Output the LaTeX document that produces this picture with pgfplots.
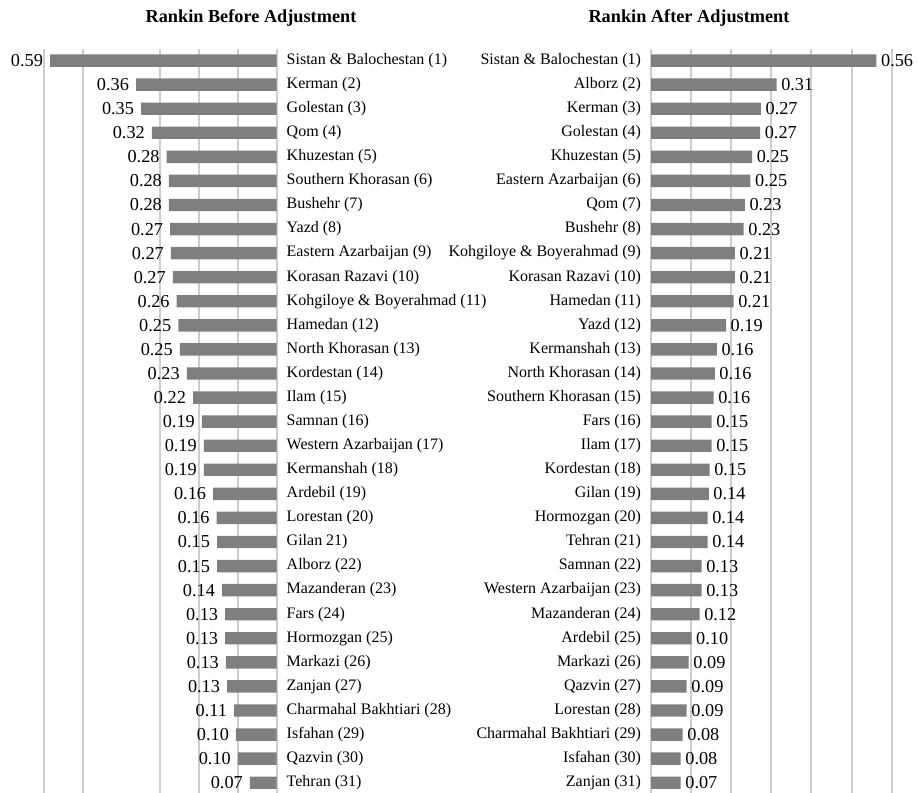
\documentclass[border=0pt]{standalone}
\usepackage{pgfplots}
\pgfplotsset{compat=1.18}
\usepackage{pgfplotstable}
\usepackage{fontspec}
\setmainfont{Liberation Serif}

\definecolor{barfill}{RGB}{127,127,129}
\definecolor{gridc}{RGB}{205,205,205}

% bar length, printed label
\pgfplotstableread{
y v lab
1 0.585 0.59
2 0.363 0.36
3 0.350 0.35
4 0.322 0.32
5 0.284 0.28
6 0.278 0.28
7 0.278 0.28
8 0.275 0.27
9 0.273 0.27
10 0.268 0.27
11 0.258 0.26
12 0.254 0.25
13 0.250 0.25
14 0.232 0.23
15 0.216 0.22
16 0.193 0.19
17 0.188 0.19
18 0.188 0.19
19 0.164 0.16
20 0.155 0.16
21 0.154 0.15
22 0.154 0.15
23 0.141 0.14
24 0.133 0.13
25 0.133 0.13
26 0.131 0.13
27 0.128 0.13
28 0.110 0.11
29 0.105 0.10
30 0.100 0.10
31 0.069 0.07
}\before

\pgfplotstableread{
y v lab
1 0.562 0.56
2 0.313 0.31
3 0.274 0.27
4 0.272 0.27
5 0.252 0.25
6 0.248 0.25
7 0.234 0.23
8 0.231 0.23
9 0.209 0.21
10 0.209 0.21
11 0.206 0.21
12 0.187 0.19
13 0.164 0.16
14 0.159 0.16
15 0.156 0.16
16 0.151 0.15
17 0.151 0.15
18 0.146 0.15
19 0.144 0.14
20 0.141 0.14
21 0.141 0.14
22 0.126 0.13
23 0.126 0.13
24 0.121 0.12
25 0.101 0.10
26 0.094 0.09
27 0.089 0.09
28 0.089 0.09
29 0.079 0.08
30 0.074 0.08
31 0.074 0.07
}\after

\pgfplotsset{
  panel/.style={
    xbar, scale only axis,
    height=559.65pt,
    xmin=0, xmax=0.6,
    ymin=0.5, ymax=31.5, y dir=reverse,
    ytick={1,...,31},
    bar width=9.3pt, bar shift=0pt,
    axis line style={draw=none},
    tick style={draw=none},
    major tick length=0pt,
    xticklabel=\empty,
    xmajorgrids, grid style={gridc, line width=1.5pt},
    clip=false,
    point meta=explicit symbolic,
    nodes near coords,
    yticklabel style={font=\fontsize{12}{14}\selectfont},
  },
}

\begin{document}
\begin{tikzpicture}
\useasboundingbox (0,0) rectangle (689.25pt,-594pt);

\begin{axis}[panel,
  at={(33.2pt,-36.4pt)}, anchor=north west, width=174.3pt,
  x dir=reverse,
  xtick={0,0.1,0.2,0.3,0.5,0.6},
  yticklabel pos=right,
  yticklabel style={anchor=west, xshift=4pt},
  yticklabels={Sistan \& Balochestan (1), Kerman (2), Golestan (3), Qom (4),
    Khuzestan (5), Southern Khorasan (6), Bushehr (7), Yazd (8),
    Eastern Azarbaijan (9), Korasan Razavi (10), Kohgiloye \& Boyerahmad (11),
    Hamedan (12), North Khorasan (13), Kordestan (14), Ilam (15), Samnan (16),
    Western Azarbaijan (17), Kermanshah (18), Ardebil (19), Lorestan (20),
    Gilan 21), Alborz (22), Mazanderan (23), Fars (24), Hormozgan (25),
    Markazi (26), Zanjan (27), Charmahal Bakhtiari (28), Isfahan (29),
    Qazvin (30), Tehran (31)},
  nodes near coords style={anchor=east, xshift=-1.8pt, font=\fontsize{13.7}{16}\selectfont},
]
\addplot[fill=barfill, draw=none] table[x=v, y=y, meta=lab] {\before};
\end{axis}

\begin{axis}[panel,
  at={(488.25pt,-36.4pt)}, anchor=north west, width=180.5pt,
  xtick={0,0.1,...,0.6},
  yticklabel style={anchor=east, xshift=-4pt},
  yticklabels={Sistan \& Balochestan (1), Alborz (2), Kerman (3), Golestan (4),
    Khuzestan (5), Eastern Azarbaijan (6), Qom (7), Bushehr (8),
    Kohgiloye \& Boyerahmad (9), Korasan Razavi (10), Hamedan (11), Yazd (12),
    Kermanshah (13), North Khorasan (14), Southern Khorasan (15), Fars (16),
    Ilam (17), Kordestan (18), Gilan (19), Hormozgan (20), Tehran (21),
    Samnan (22), Western Azarbaijan (23), Mazanderan (24), Ardebil (25),
    Markazi (26), Qazvin (27), Lorestan (28), Charmahal Bakhtiari (29),
    Isfahan (30), Zanjan (31)},
  nodes near coords style={anchor=west, font=\fontsize{13.7}{16}\selectfont},
]
\addplot[fill=barfill, draw=none] table[x=v, y=y, meta=lab] {\after};
\end{axis}

\node[anchor=base, font=\bfseries\fontsize{13.7}{16}\selectfont] at (188.25pt,-17pt) {Rankin Before Adjustment};
\node[anchor=base, font=\bfseries\fontsize{13.7}{16}\selectfont] at (516.75pt,-17pt) {Rankin After Adjustment};
\end{tikzpicture}
\end{document}
